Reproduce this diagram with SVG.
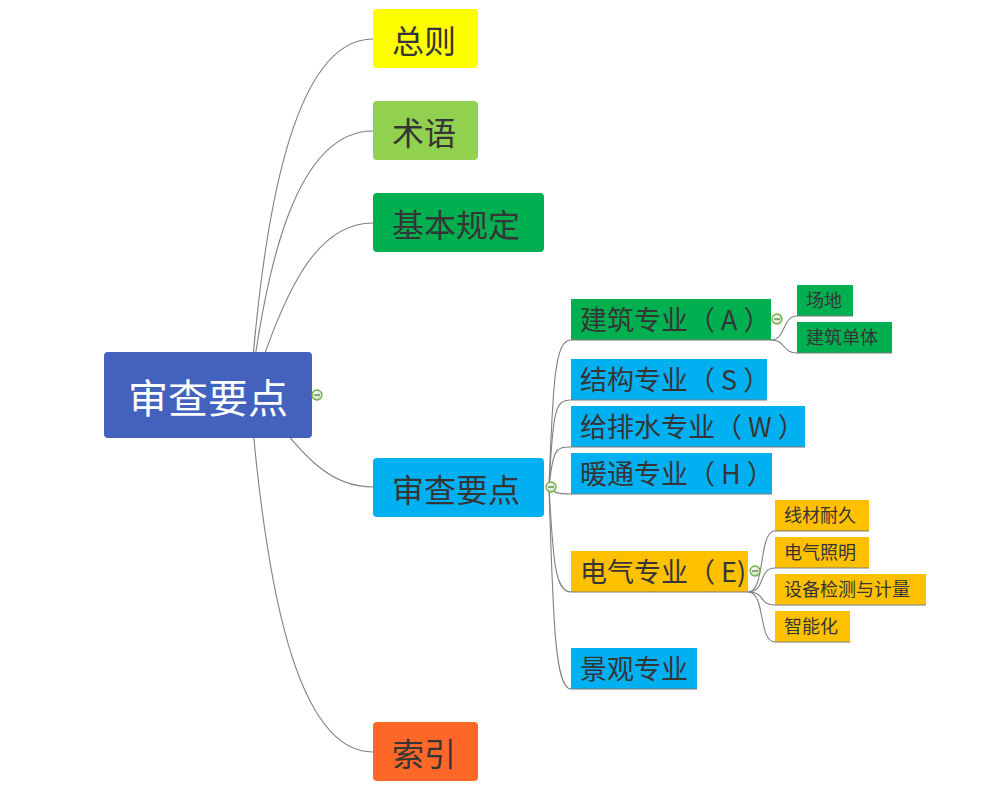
<svg xmlns="http://www.w3.org/2000/svg" width="1003" height="793" viewBox="0 0 1003 793">
<defs>
<radialGradient id="cg" cx="0.4" cy="0.35" r="0.7">
<stop offset="0" stop-color="#ffffff"/>
<stop offset="1" stop-color="#c9d3c2"/>
</radialGradient>
</defs>
<style>
.t{font-family:"Noto Sans CJK SC","Microsoft YaHei",sans-serif;fill:#353535}
.l1{font-size:32px}
.l2{font-size:27px}
.l3{font-size:18px}
.root{font-size:40px;fill:#ffffff}
.ln{fill:none;stroke:#808080;stroke-width:1.1}
.bl{stroke:#7a7a7a;stroke-width:1.2}
.col{fill:url(#cg);stroke:#6cb33e;stroke-width:1.3}
.cm{stroke:#4f7f33;stroke-width:1.3}
</style>
<rect width="1003" height="793" fill="#ffffff"/>
<g id="connectors">
<path class="ln" d="M250,395 C262,230 290,39 373,39"/>
<path class="ln" d="M250,395 C266,265 296,131 373,131"/>
<path class="ln" d="M250,395 C280,310 308,223 373,223"/>
<path class="ln" d="M258,398 C300,450 325,487 373,487"/>
<path class="ln" d="M250,395 C265,580 295,752 373,752"/>
<path class="ln" d="M549,487 C553,380 555,340 571,340"/>
<path class="ln" d="M549,487 C553,410 555,400 571,400"/>
<path class="ln" d="M549,487 C553,450 555,447 571,447"/>
<path class="ln" d="M549,487 C553,492 556,494 571,494"/>
<path class="ln" d="M549,487 C553,560 555,592 571,592"/>
<path class="ln" d="M549,487 C553,620 555,689 571,689"/>
<path class="ln" d="M771,340 C786,340 782,316 797,316"/>
<path class="ln" d="M771,340 C786,340 782,353 797,353"/>
<path class="ln" d="M748,592 C766,592 758,531 775,531"/>
<path class="ln" d="M748,592 C766,592 758,568 775,568"/>
<path class="ln" d="M748,592 C766,592 758,605 775,605"/>
<path class="ln" d="M748,592 C766,592 758,642 775,642"/>
</g>
<g id="root">
<rect x="104" y="352" width="208" height="86" rx="4" fill="#4361bd"/>
<text class="t root" x="128" y="413">审查要点</text>
<circle class="col" cx="317" cy="395" r="5"/><line class="cm" x1="314" y1="395" x2="320" y2="395"/>
</g>
<g id="n-zongze">
<rect x="373" y="9" width="105" height="59" rx="4" fill="#ffff00"/>
<text class="t l1" x="392" y="53">总则</text>
</g>
<g id="n-shuyu">
<rect x="373" y="101" width="105" height="59" rx="4" fill="#92d050"/>
<text class="t l1" x="392" y="145">术语</text>
</g>
<g id="n-jiben">
<rect x="373" y="193" width="171" height="59" rx="4" fill="#00b050"/>
<text class="t l1" x="392" y="237">基本规定</text>
</g>
<g id="n-shencha">
<rect x="373" y="458" width="171" height="59" rx="4" fill="#00b0f0"/>
<text class="t l1" x="392" y="502">审查要点</text>
<circle class="col" cx="551" cy="487" r="5"/><line class="cm" x1="548" y1="487" x2="554" y2="487"/>
</g>
<g id="n-suoyin">
<rect x="373" y="722" width="105" height="59" rx="4" fill="#fd6828"/>
<text class="t l1" x="392" y="766">索引</text>
</g>
<g id="n-a">
<rect x="571" y="299" width="200" height="41" fill="#00b050"/>
<line class="bl" x1="571" y1="340" x2="771" y2="340"/>
<text class="t l2" x="580" y="330">建筑专业（ A ）</text>
<circle class="col" cx="777" cy="319" r="5"/><line class="cm" x1="774" y1="319" x2="780" y2="319"/>
</g>
<g id="n-s">
<rect x="571" y="359" width="196" height="41" fill="#00b0f0"/>
<line class="bl" x1="571" y1="400" x2="767" y2="400"/>
<text class="t l2" x="580" y="390">结构专业（ S ）</text>
</g>
<g id="n-w">
<rect x="571" y="406" width="234" height="41" fill="#00b0f0"/>
<line class="bl" x1="571" y1="447" x2="805" y2="447"/>
<text class="t l2" x="580" y="437">给排水专业（ W ）</text>
</g>
<g id="n-h">
<rect x="571" y="453" width="201" height="41" fill="#00b0f0"/>
<line class="bl" x1="571" y1="494" x2="772" y2="494"/>
<text class="t l2" x="580" y="484">暖通专业（ H ）</text>
</g>
<g id="n-e">
<rect x="571" y="551" width="177" height="41" fill="#ffc000"/>
<line class="bl" x1="571" y1="592" x2="748" y2="592"/>
<text class="t l2" x="580" y="582">电气专业（ E)</text>
<circle class="col" cx="755" cy="571" r="5"/><line class="cm" x1="752" y1="571" x2="758" y2="571"/>
</g>
<g id="n-jingguan">
<rect x="571" y="648" width="126" height="41" fill="#00b0f0"/>
<line class="bl" x1="571" y1="689" x2="697" y2="689"/>
<text class="t l2" x="580" y="679">景观专业</text>
</g>
<g id="n-changdi">
<rect x="797" y="285" width="56" height="31" fill="#00b050"/>
<line class="bl" x1="797" y1="316" x2="853" y2="316"/>
<text class="t l3" x="806" y="307">场地</text>
</g>
<g id="n-danti">
<rect x="797" y="322" width="95" height="31" fill="#00b050"/>
<line class="bl" x1="797" y1="353" x2="892" y2="353"/>
<text class="t l3" x="806" y="344">建筑单体</text>
</g>
<g id="n-xiancai">
<rect x="775" y="500" width="94" height="31" fill="#ffc000"/>
<line class="bl" x1="775" y1="531" x2="869" y2="531"/>
<text class="t l3" x="784" y="522">线材耐久</text>
</g>
<g id="n-zhaoming">
<rect x="775" y="537" width="94" height="31" fill="#ffc000"/>
<line class="bl" x1="775" y1="568" x2="869" y2="568"/>
<text class="t l3" x="784" y="559">电气照明</text>
</g>
<g id="n-jiance">
<rect x="775" y="574" width="151" height="31" fill="#ffc000"/>
<line class="bl" x1="775" y1="605" x2="926" y2="605"/>
<text class="t l3" x="784" y="596">设备检测与计量</text>
</g>
<g id="n-zhineng">
<rect x="775" y="611" width="75" height="31" fill="#ffc000"/>
<line class="bl" x1="775" y1="642" x2="850" y2="642"/>
<text class="t l3" x="784" y="633">智能化</text>
</g>
</svg>
